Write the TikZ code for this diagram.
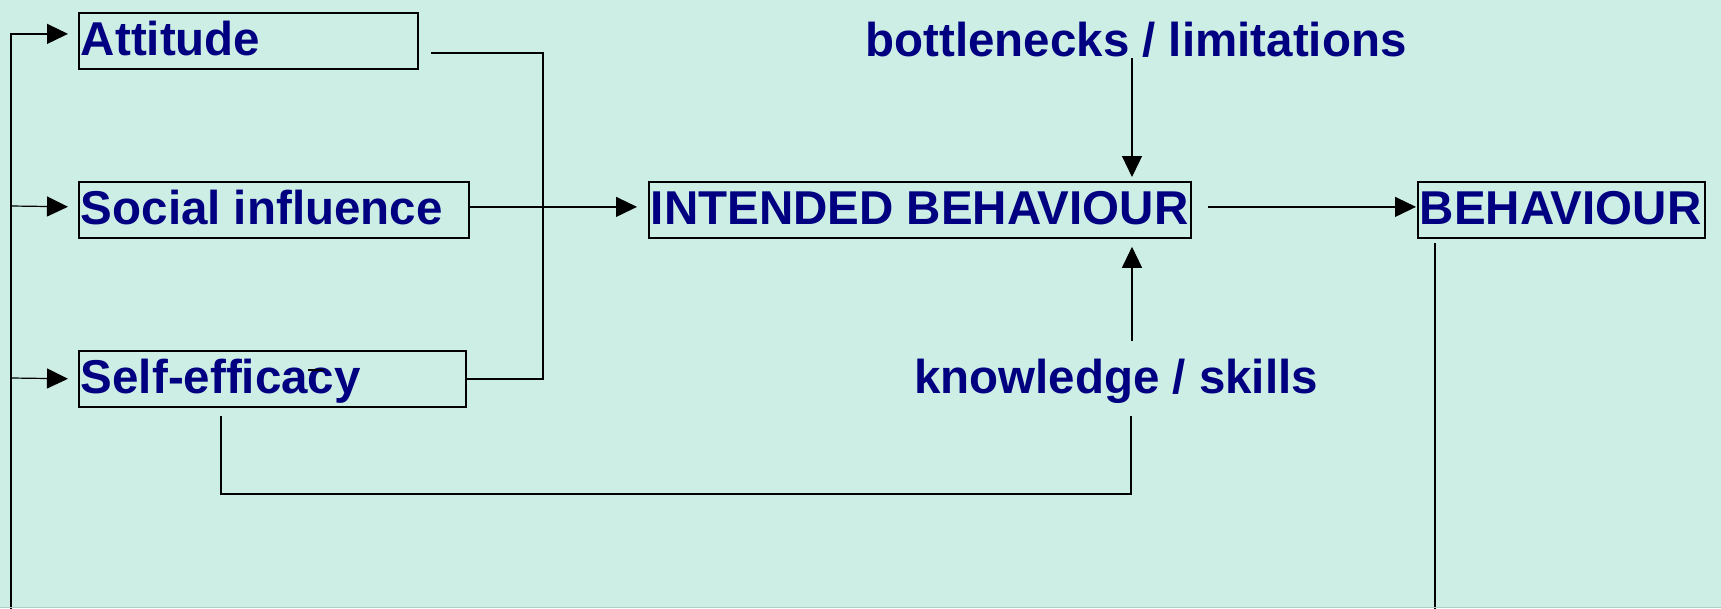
\documentclass[tikz,border=0pt]{standalone}
\usepackage{fontspec}
\setmainfont{Liberation Sans}
\usetikzlibrary{arrows.meta,calc}
\definecolor{bg}{RGB}{204,238,228}
\definecolor{navy}{RGB}{0,0,128}
\definecolor{edgeline}{RGB}{175,205,195}
\newcommand{\labfont}{\bfseries\fontsize{47.5}{56}\selectfont}
\begin{document}
\begin{tikzpicture}[x=1pt,y=-1pt,
  box/.style={draw=black, line width=1.8pt, inner xsep=2pt, inner ysep=0pt,
    minimum height=56pt, text height=37pt, text depth=7pt, anchor=north west,
    text=navy, font=\labfont},
  lbl/.style={inner sep=0pt, anchor=base, text=navy, font=\labfont},
  conn/.style={line width=1.2pt, draw=black},
  arr/.style={conn, -{Triangle[length=21pt,width=20pt]}},
]
\fill[bg] (0,0) rectangle (1721,608);
\useasboundingbox (0,0) rectangle (1721,608);

% boxes
\node[box] (att)  at (78,12)   {\makebox[335pt][l]{Attitude}};
\node[box] (soc)  at (78,181)  {\makebox[386pt][l]{Social influence}};
\node[box] (self) at (78,350)  {\makebox[383pt][l]{Self-efficacy}};
\node[box] (ib)   at (648,181) {\makebox[538pt][l]{INTENDED BEHAVIOUR}};
\node[box] (beh)  at (1417,181){\makebox[283pt][l]{BEHAVIOUR}};

% free labels
\node[lbl] (bn) at (1136,56)  {bottlenecks / limitations};
\node[lbl] (kn) at (1116,393) {knowledge / skills};

% helper coordinates
\coordinate (bnfoot) at (1132,58);
\coordinate (knhead) at (1132,341);
\coordinate (bus)    at (543,0);
\coordinate (fb)     at (1435,243);
\coordinate (fbl)    at (11,620);
\coordinate (lsoc)   at (11,206);
\coordinate (lself)  at (11,378);
\coordinate (sk1)    at (221,416);
\coordinate (sk2)    at (1131,416);

% attitude / self-efficacy bus
\draw[conn] ([xshift=12pt,yshift=-12pt]att.east) -| (bus |- self.east) -- (self.east);
% social influence -> intended behaviour
\draw[arr, shorten >=11pt] ([yshift=3pt]soc.east) -- ([yshift=3pt]ib.west);
% intended behaviour -> behaviour
\draw[arr, shorten <=16pt, shorten >=1pt] ([yshift=3pt]ib.east) -- ([yshift=3pt]beh.west);
% bottlenecks -> intended behaviour
\draw[arr, shorten >=4pt] (bnfoot) -- (bnfoot |- ib.north);
% knowledge -> intended behaviour
\draw[arr, shorten >=8pt] (knhead) -- (knhead |- ib.south);
% self-efficacy -> knowledge
\draw[conn] (sk1) -- ++(0,78) -| (sk2);

% feedback loop
\begin{scope}
\clip (0,0) rectangle (1721,608);
\draw[arr, shorten >=10pt] (fb) |- (fbl) |- ([yshift=7pt]att.west);
\end{scope}
\draw[arr, shorten >=10pt] (lsoc) -- ([yshift=3pt]soc.west);
\draw[arr, shorten >=10pt] (lself) -- (self.west);

% stray mark in the original
\draw[line width=2pt] (308,370) -- (324,370);
% bottom edge
\draw[line width=1pt, edgeline] (0,607.5) -- (1721,607.5);
\end{tikzpicture}
\end{document}
